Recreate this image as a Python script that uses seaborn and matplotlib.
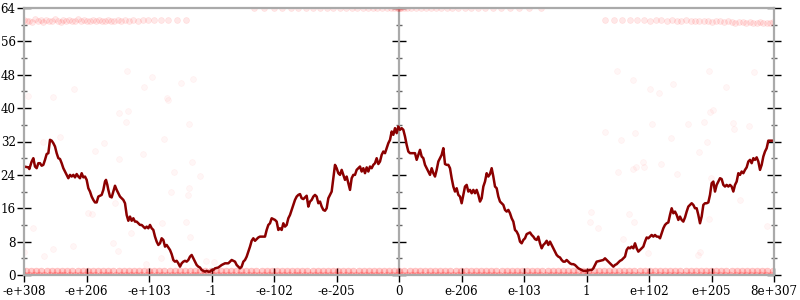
import matplotlib
matplotlib.use("Agg")
import matplotlib.pyplot as plt
import pandas as pd
import seaborn as sns
from matplotlib.ticker import MultipleLocator, FixedLocator

# ---------------- data ----------------
tick_pos = [0, 187.5, 375, 562.5, 750, 937.5, 1125, 1312.5, 1500, 1687.5, 1875, 2062.5, 2250]
tick_labels = ["-e+308", "-e+206", "-e+103", "-1", "-e-102", "-e-205", "0",
               "e-206", "e-103", "1", "e+102", "e+205", "8e+307"]

line_x = [
    0, 13, 16, 23, 28, 33, 38, 43, 48, 53,
    58, 63, 68, 73, 78, 83, 88, 93, 98, 103,
    108, 113, 118, 123, 128, 133, 138, 143, 148, 153,
    158, 163, 168, 173, 178, 183, 188, 193, 198, 203,
    208, 213, 218, 223, 228, 233, 238, 243, 246, 250,
    253, 258, 263, 268, 273, 278, 283, 288, 293, 298,
    303, 308, 313, 318, 323, 328, 333, 338, 343, 348,
    353, 358, 363, 368, 373, 378, 383, 388, 393, 398,
    403, 408, 413, 418, 423, 428, 433, 438, 443, 448,
    453, 458, 463, 468, 473, 478, 483, 488, 493, 498,
    503, 508, 513, 518, 523, 528, 533, 538, 543, 548,
    553, 558, 563, 568,
    573, 583, 593, 603, 613, 623, 633, 638, 643, 648,
    653, 658, 663, 668, 673, 678, 683, 688, 693, 698,
    703, 708, 718, 723,
    728, 733, 738, 743, 748, 753, 758, 763, 768, 773,
    778, 783, 788, 793, 798, 803, 808, 813, 818, 823,
    828, 833, 838, 843, 848, 853, 858, 863, 868, 873,
    878, 883, 888, 893, 898, 903, 908, 913, 918, 923,
    928, 933, 938, 943, 948, 953, 958, 963, 968, 973,
    978, 983, 988, 993, 998, 1003, 1008, 1013, 1018, 1023,
    1028, 1033, 1038, 1043, 1048, 1053, 1058, 1063, 1068, 1073,
    1078, 1083, 1088, 1093, 1098, 1103, 1108, 1113, 1118, 1123,
    1128,
    1133, 1138, 1143, 1148, 1153, 1158, 1168,
    1173, 1178, 1183, 1188, 1193, 1198, 1203, 1208, 1213, 1218,
    1223, 1228, 1233, 1238, 1243, 1248, 1253, 1258, 1263, 1268,
    1273, 1278, 1283, 1288, 1293, 1298, 1303, 1308, 1313, 1318,
    1323, 1328, 1333, 1338, 1343, 1348, 1353, 1358, 1363, 1368,
    1373, 1378, 1383, 1388, 1393, 1398, 1403, 1408, 1413, 1418,
    1423, 1428, 1433, 1438, 1443, 1448, 1453, 1458, 1463, 1468,
    1473, 1478, 1483, 1488, 1493, 1498, 1503, 1508, 1513, 1518,
    1523, 1528, 1533, 1538, 1543, 1548, 1553, 1558, 1563, 1568,
    1573, 1578, 1583, 1588, 1593, 1598, 1603, 1608, 1613, 1618,
    1623, 1628, 1633, 1638, 1643, 1648, 1653, 1658, 1663, 1668,
    1673, 1678, 1688, 1698,
    1703, 1708, 1713, 1718, 1728, 1738, 1743, 1748, 1753, 1758,
    1763, 1768, 1773, 1778, 1783, 1788, 1793, 1798, 1803, 1808,
    1813, 1818, 1823, 1828, 1833, 1838, 1843, 1848, 1853, 1858,
    1863, 1868, 1873, 1878, 1883, 1888, 1893, 1898, 1903, 1908,
    1913, 1918, 1923, 1928, 1933, 1938, 1943, 1948, 1953, 1958,
    1963, 1968, 1973, 1978, 1983, 1988, 1993, 1998, 2003, 2008,
    2013, 2018, 2023, 2028, 2033, 2038, 2043, 2048, 2053, 2058,
    2063, 2068, 2073, 2078, 2083, 2088, 2093, 2098, 2103, 2108,
    2113, 2118, 2123, 2128, 2133, 2138, 2143, 2148, 2153, 2158,
    2163, 2168, 2173, 2178, 2183, 2188, 2193, 2198, 2203, 2208,
    2213, 2218, 2223, 2228, 2233, 2250,
]
line_bits = [
    26.0, 25.8, 25.4, 27.2, 28.0, 26.0, 25.6, 26.8, 26.8, 26.2,
    26.4, 27.6, 29.0, 29.2, 32.4, 32.2, 31.6, 30.8, 29.2, 28.0,
    27.8, 26.8, 25.6, 24.8, 24.0, 23.2, 24.0, 23.6, 24.0, 23.4,
    24.2, 23.6, 23.2, 24.4, 23.4, 23.6, 22.8, 20.8, 20.0, 18.8,
    18.0, 17.4, 17.4, 18.8, 19.0, 19.2, 20.4, 22.4, 22.8, 21.6,
    20.4, 18.8, 18.6, 20.0, 21.4, 20.4, 19.6, 18.8, 18.4, 18.0,
    17.2, 14.4, 13.0, 14.0, 13.0, 13.6, 12.8, 12.8, 12.4, 12.0,
    12.0, 11.6, 11.2, 11.6, 11.2, 12.0, 11.2, 10.8, 9.2, 8.0,
    7.2, 7.6, 8.8, 8.4, 6.8, 7.2, 6.6, 6.0, 5.0, 3.6,
    3.2, 3.4, 2.8, 2.0, 2.8, 3.2, 3.4, 3.2, 3.6, 4.4,
    4.8, 4.0, 3.2, 2.4, 2.0, 1.8, 1.2, 1.0, 0.8, 1.0,
    0.8, 0.8, 1.2, 1.2,
    1.6, 1.8, 2.4, 2.8, 2.8, 3.6, 3.2, 2.4, 2.0, 1.6,
    2.0, 3.2, 3.6, 4.4, 5.6, 6.8, 8.2, 8.8, 8.2, 8.6,
    9.0, 9.2, 9.2, 9.2,
    10.8, 12.0, 12.4, 13.6, 13.4, 13.2, 12.8, 10.8, 11.2, 10.8,
    12.4, 11.6, 12.0, 13.6, 14.4, 15.6, 16.8, 18.0, 18.8, 19.2,
    19.4, 18.4, 18.2, 18.6, 19.0, 16.4, 17.6, 18.0, 18.8, 19.2,
    18.8, 17.2, 17.6, 16.4, 15.6, 15.4, 16.0, 18.4, 19.2, 20.0,
    23.2, 26.4, 25.6, 24.4, 24.0, 25.2, 24.0, 22.8, 23.6, 22.0,
    20.4, 23.2, 24.0, 24.0, 25.2, 25.6, 26.0, 24.8, 25.6, 24.4,
    25.8, 24.8, 26.0, 25.6, 26.4, 26.8, 28.0, 26.6, 27.2, 28.8,
    29.6, 29.2, 30.4, 31.6, 32.4, 34.4, 33.6, 35.2, 34.0, 35.6,
    34.8,
    35.2, 34.8, 33.2, 31.2, 29.6, 29.2, 29.2,
    29.2, 27.6, 28.8, 30.0, 28.4, 28.0, 26.4, 25.6, 24.8, 24.0,
    25.6, 24.4, 23.6, 25.2, 27.2, 28.0, 28.8, 30.4, 26.6, 26.4,
    26.4, 25.6, 23.2, 21.2, 20.0, 20.8, 19.2, 18.8, 17.2, 19.2,
    21.2, 21.6, 20.0, 20.4, 19.6, 20.4, 19.6, 20.4, 19.2, 17.6,
    18.4, 21.2, 22.4, 24.4, 23.6, 24.2, 25.6, 23.6, 21.2, 20.8,
    18.8, 17.6, 17.2, 16.8, 15.6, 15.2, 15.6, 14.8, 13.6, 12.8,
    10.8, 10.4, 9.6, 8.0, 7.6, 8.4, 8.8, 9.8, 10.0, 10.2,
    9.6, 9.2, 8.6, 8.4, 9.2, 7.6, 6.4, 7.2, 7.6, 8.2,
    7.2, 8.0, 7.2, 6.4, 5.6, 4.8, 4.4, 4.2, 3.6, 3.2,
    3.2, 3.6, 3.2, 2.8, 2.6, 2.6, 2.4, 2.0, 1.6, 1.4,
    1.2, 1.0, 1.0, 1.2,
    1.2, 1.6, 2.4, 3.2, 3.4, 3.6, 4.0, 3.6, 3.2, 2.8,
    2.4, 2.0, 2.4, 2.6, 3.0, 3.4, 3.6, 4.0, 4.4, 6.0,
    6.6, 6.4, 6.8, 6.4, 7.6, 6.4, 5.6, 6.0, 6.4, 6.8,
    8.0, 9.0, 8.8, 9.2, 9.6, 9.2, 9.6, 9.2, 9.2, 8.8,
    10.0, 11.2, 12.0, 12.4, 12.6, 14.4, 16.0, 14.8, 15.2, 14.4,
    13.2, 14.0, 13.2, 12.8, 13.8, 15.2, 16.4, 16.8, 17.2, 16.8,
    16.0, 16.0, 14.4, 12.4, 14.0, 16.8, 17.2, 17.2, 17.4, 19.2,
    22.0, 22.4, 20.0, 21.6, 22.4, 23.2, 23.0, 21.6, 21.2, 21.6,
    21.2, 21.6, 21.2, 20.0, 21.6, 22.4, 24.4, 24.0, 24.8, 24.4,
    25.2, 25.8, 27.2, 27.6, 26.8, 28.0, 27.6, 28.2, 27.2, 25.2,
    26.4, 28.4, 29.6, 30.4, 32.2, 32.2,
]

# samples with 0 and 1 bits of error (dense band along the bottom)
zero_x = [0, 15, 29, 46, 60, 77, 92, 108, 121, 138, 152, 169, 183, 199, 214, 230, 246, 259, 276, 290,
          305, 322, 336, 351, 368, 382, 398, 413, 429, 444, 459, 475, 490, 506, 520, 537, 551, 567, 583, 597,
          613, 628, 644, 658, 674, 690, 704, 719, 735, 751, 765, 781, 796, 812, 826, 842, 857, 873, 888, 903,
          918, 934, 949, 965, 980, 995, 1011, 1026, 1042, 1057, 1072, 1088, 1103, 1118, 1133, 1149, 1164, 1180,
          1195, 1211, 1226, 1241, 1257, 1272, 1288, 1303, 1318, 1334, 1349, 1365, 1380, 1395, 1411, 1426, 1442,
          1457, 1472, 1488, 1503, 1519, 1534, 1549, 1565, 1580, 1596, 1611, 1626, 1642, 1657, 1673, 1688, 1703,
          1719, 1734, 1750, 1765, 1780, 1796, 1811, 1827, 1842, 1857, 1873, 1888, 1904, 1919, 1934, 1950, 1965,
          1981, 1996, 2011, 2027, 2042, 2058, 2073, 2088, 2104, 2119, 2135, 2150, 2165, 2181, 2196, 2212, 2227, 2242]
one_x = [6, 21, 37, 52, 69, 84, 99, 115, 130, 145, 161, 176, 191, 207, 222, 238, 253, 268, 284, 299,
         314, 330, 345, 360, 376, 391, 406, 421, 437, 452, 467, 483, 498, 514, 529, 544, 560, 575, 590, 605,
         621, 636, 651, 667, 682, 697, 713, 728, 743, 759, 774, 789, 805, 820, 835, 850, 866, 881, 896, 912,
         927, 942, 958, 973, 988, 1004, 1019, 1034, 1050, 1065, 1080, 1096, 1111, 1126, 1141, 1157, 1172, 1187,
         1203, 1218, 1233, 1249, 1264, 1279, 1295, 1310, 1325, 1341, 1356, 1371, 1387, 1402, 1417, 1433, 1448,
         1463, 1479, 1494, 1509, 1525, 1540, 1555, 1571, 1586, 1601, 1617, 1632, 1647, 1663, 1678, 1693, 1709,
         1724, 1739, 1755, 1770, 1785, 1801, 1816, 1831, 1847, 1862, 1877, 1893, 1908, 1923, 1939, 1954, 1969,
         1985, 2000, 2015, 2031, 2046, 2061, 2077, 2092, 2107, 2123, 2138, 2153, 2169, 2184, 2199, 2215, 2230, 2246]

# samples with about 61 bits of error near both ends
left61_x = [0, 8, 16, 25, 33, 41, 50, 58, 66, 75, 84, 92, 101, 110, 118, 127, 135, 144, 153, 161,
            170, 179, 188, 197, 206, 215, 224, 233, 243, 252, 262, 271, 281, 292, 302, 315, 328, 341,
            356, 372, 390, 410, 432, 458, 487]
left61_bits = [61.2, 60.8, 61.0, 60.6, 61.3, 60.9, 61.1, 60.7, 61.2, 61.0, 60.8, 61.3, 61.0, 60.7, 61.1,
               60.9, 61.2, 60.8, 61.0, 61.3, 60.9, 61.1, 60.8, 61.0, 61.2, 60.9, 61.1, 60.8, 61.0, 61.2,
               61.0, 60.9, 61.1, 61.0, 61.2, 61.0, 61.1, 61.0, 61.2, 61.1, 61.2, 61.1, 61.2, 61.2, 61.2]
right61_x = [1742, 1770, 1795, 1818, 1840, 1860, 1878, 1896, 1912, 1928, 1943, 1958, 1972, 1986, 2000,
             2013, 2026, 2039, 2052, 2064, 2076, 2088, 2100, 2112, 2123, 2134, 2145, 2156, 2167, 2178,
             2188, 2198, 2208, 2218, 2228, 2238, 2247]
right61_bits = [61.2, 61.2, 61.1, 61.2, 61.1, 61.2, 61.0, 61.1, 61.2, 61.0, 61.1, 60.9, 61.0, 61.1, 60.9,
                61.0, 60.8, 61.0, 60.9, 60.7, 60.9, 60.8, 60.6, 60.8, 60.7, 60.5, 60.7, 60.6, 60.4, 60.6,
                60.5, 60.3, 60.6, 60.4, 60.5, 60.3, 60.6]

# samples with 64 bits of error in the middle
top64_x = [690, 720, 750, 775, 800, 822, 845, 866, 888, 908, 928, 948, 966, 984, 1000, 1016, 1032, 1046,
           1060, 1074, 1088, 1100, 1110, 1118, 1122, 1125, 1128, 1132, 1140, 1150, 1162, 1176, 1190, 1205,
           1220, 1236, 1252, 1268, 1285, 1303, 1322, 1342, 1362, 1384, 1408, 1432, 1458, 1486, 1516, 1550]

# scattered samples
mid_x = [309, 384, 360, 471, 507, 150, 87, 12, 429, 1779, 1827, 1878, 1905, 1947, 2055, 2106, 2190,
         285, 312, 306, 495, 57, 108, 240, 213, 285, 357, 420, 504, 450, 528, 441, 495, 432, 492,
         273, 192, 204, 414, 486, 321, 498, 27, 267, 147, 87, 282, 411, 546, 570, 0, 60, 366, 447,
         1701, 1698, 1743, 1884, 2040, 2127, 2130, 2175, 1791, 1833, 1941, 2025, 2049, 1992, 2058, 2067,
         1857, 1860, 1827, 1836, 1911, 1782, 1959, 2061, 2148, 1815, 1830, 1722, 2055, 2229, 1797, 2028,
         2022, 1872]
mid_bits = [49, 47.5, 45, 46, 47, 44.6, 42.7, 43, 42.4, 49, 46.8, 44.6, 43.6, 45.8, 48.9, 45, 48.7,
            38.8, 39.3, 36.7, 36.2, 31.9, 33, 31.6, 29.7, 27.8, 29, 32.6, 27.1, 24.7, 23.7, 19.9, 20.9, 42, 19.2,
            17.3, 14.9, 14.6, 12.5, 12.7, 10.1, 9.1, 11.3, 7.7, 7.0, 6.2, 5.8, 4.1, 3.4, 3.2, 5.5, 4.6, 2.6, 3.8,
            15.1, 12.7, 34.3, 36.2, 36.7, 36.4, 35, 35.7, 32.4, 34, 32.9, 29.5, 31.9, 36.2, 39, 39.6,
            27.1, 25.9, 25.4, 25.9, 26.6, 24.7, 24.2, 23.3, 18, 14.6, 12.7, 11.3, 13.4, 11.8, 8.6, 5.5,
            4.8, 5.3]

# ---------------- frames ----------------
low_pts = pd.concat([
    pd.DataFrame({"x": zero_x, "bits": 0.0}),
    pd.DataFrame({"x": one_x, "bits": 1.0}),
], ignore_index=True)
high_pts = pd.concat([
    pd.DataFrame({"x": left61_x, "bits": left61_bits}),
    pd.DataFrame({"x": right61_x, "bits": right61_bits}),
    pd.DataFrame({"x": top64_x, "bits": 64.0}),
], ignore_index=True)
mid_pts = pd.DataFrame({"x": mid_x, "bits": mid_bits})
line_df = pd.DataFrame({"x": line_x, "bits": line_bits})

# ---------------- plot ----------------
sns.set_theme(style="white")
plt.rcParams["font.family"] = ["DejaVu Serif"]

fig = plt.figure(figsize=(8, 3), dpi=100)
ax = fig.add_axes([24 / 800, 25 / 300, 750 / 800, 267 / 300])

red = "#ff0000"
sns.scatterplot(data=low_pts, x="x", y="bits", color=red, alpha=0.2, s=26,
                edgecolor=red, linewidth=0.3, legend=False, ax=ax, zorder=1)
sns.scatterplot(data=high_pts, x="x", y="bits", color=red, alpha=0.09, s=18,
                edgecolor=red, linewidth=0.5, legend=False, ax=ax, zorder=1)
sns.scatterplot(data=mid_pts, x="x", y="bits", color=red, alpha=0.035, s=18,
                edgecolor=red, linewidth=0.6, legend=False, ax=ax, zorder=1)
sns.lineplot(data=line_df, x="x", y="bits", color="#8b0000", linewidth=1.8,
             estimator=None, sort=False, ax=ax, zorder=3)

ax.set_xlim(0, 2250)
ax.set_ylim(0, 64)
ax.set_xlabel("")
ax.set_ylabel("")

ax.xaxis.set_major_locator(FixedLocator(tick_pos))
ax.set_xticklabels(tick_labels)
ax.yaxis.set_major_locator(MultipleLocator(8))
ax.yaxis.set_minor_locator(MultipleLocator(4))

ax.tick_params(axis="x", which="major", direction="inout", length=10, width=1,
               color="black", bottom=True, top=False, labelsize=8.6, pad=2, labelcolor="black")
ax.tick_params(axis="y", which="major", direction="inout", length=10, width=1,
               color="black", left=True, right=True, labelsize=8.6, pad=1, labelcolor="black")
ax.tick_params(axis="y", which="minor", direction="inout", length=5, width=1,
               color="#666666", left=True, right=True)

for s in ax.spines.values():
    s.set_color("#aaaaaa")
    s.set_linewidth(1.6)
    s.set_zorder(4)

sec = ax.secondary_yaxis(0.5)
sec.yaxis.set_major_locator(MultipleLocator(8))
sec.yaxis.set_minor_locator(MultipleLocator(4))
sec.tick_params(axis="y", which="major", direction="inout", length=10, width=1,
                color="black", labelleft=False, labelright=False)
sec.tick_params(axis="y", which="minor", direction="inout", length=5, width=1,
                color="#666666", labelleft=False, labelright=False)
for s in sec.spines.values():
    s.set_color("#aaaaaa")
    s.set_linewidth(1.6)

fig.savefig("out.png", dpi=100)
